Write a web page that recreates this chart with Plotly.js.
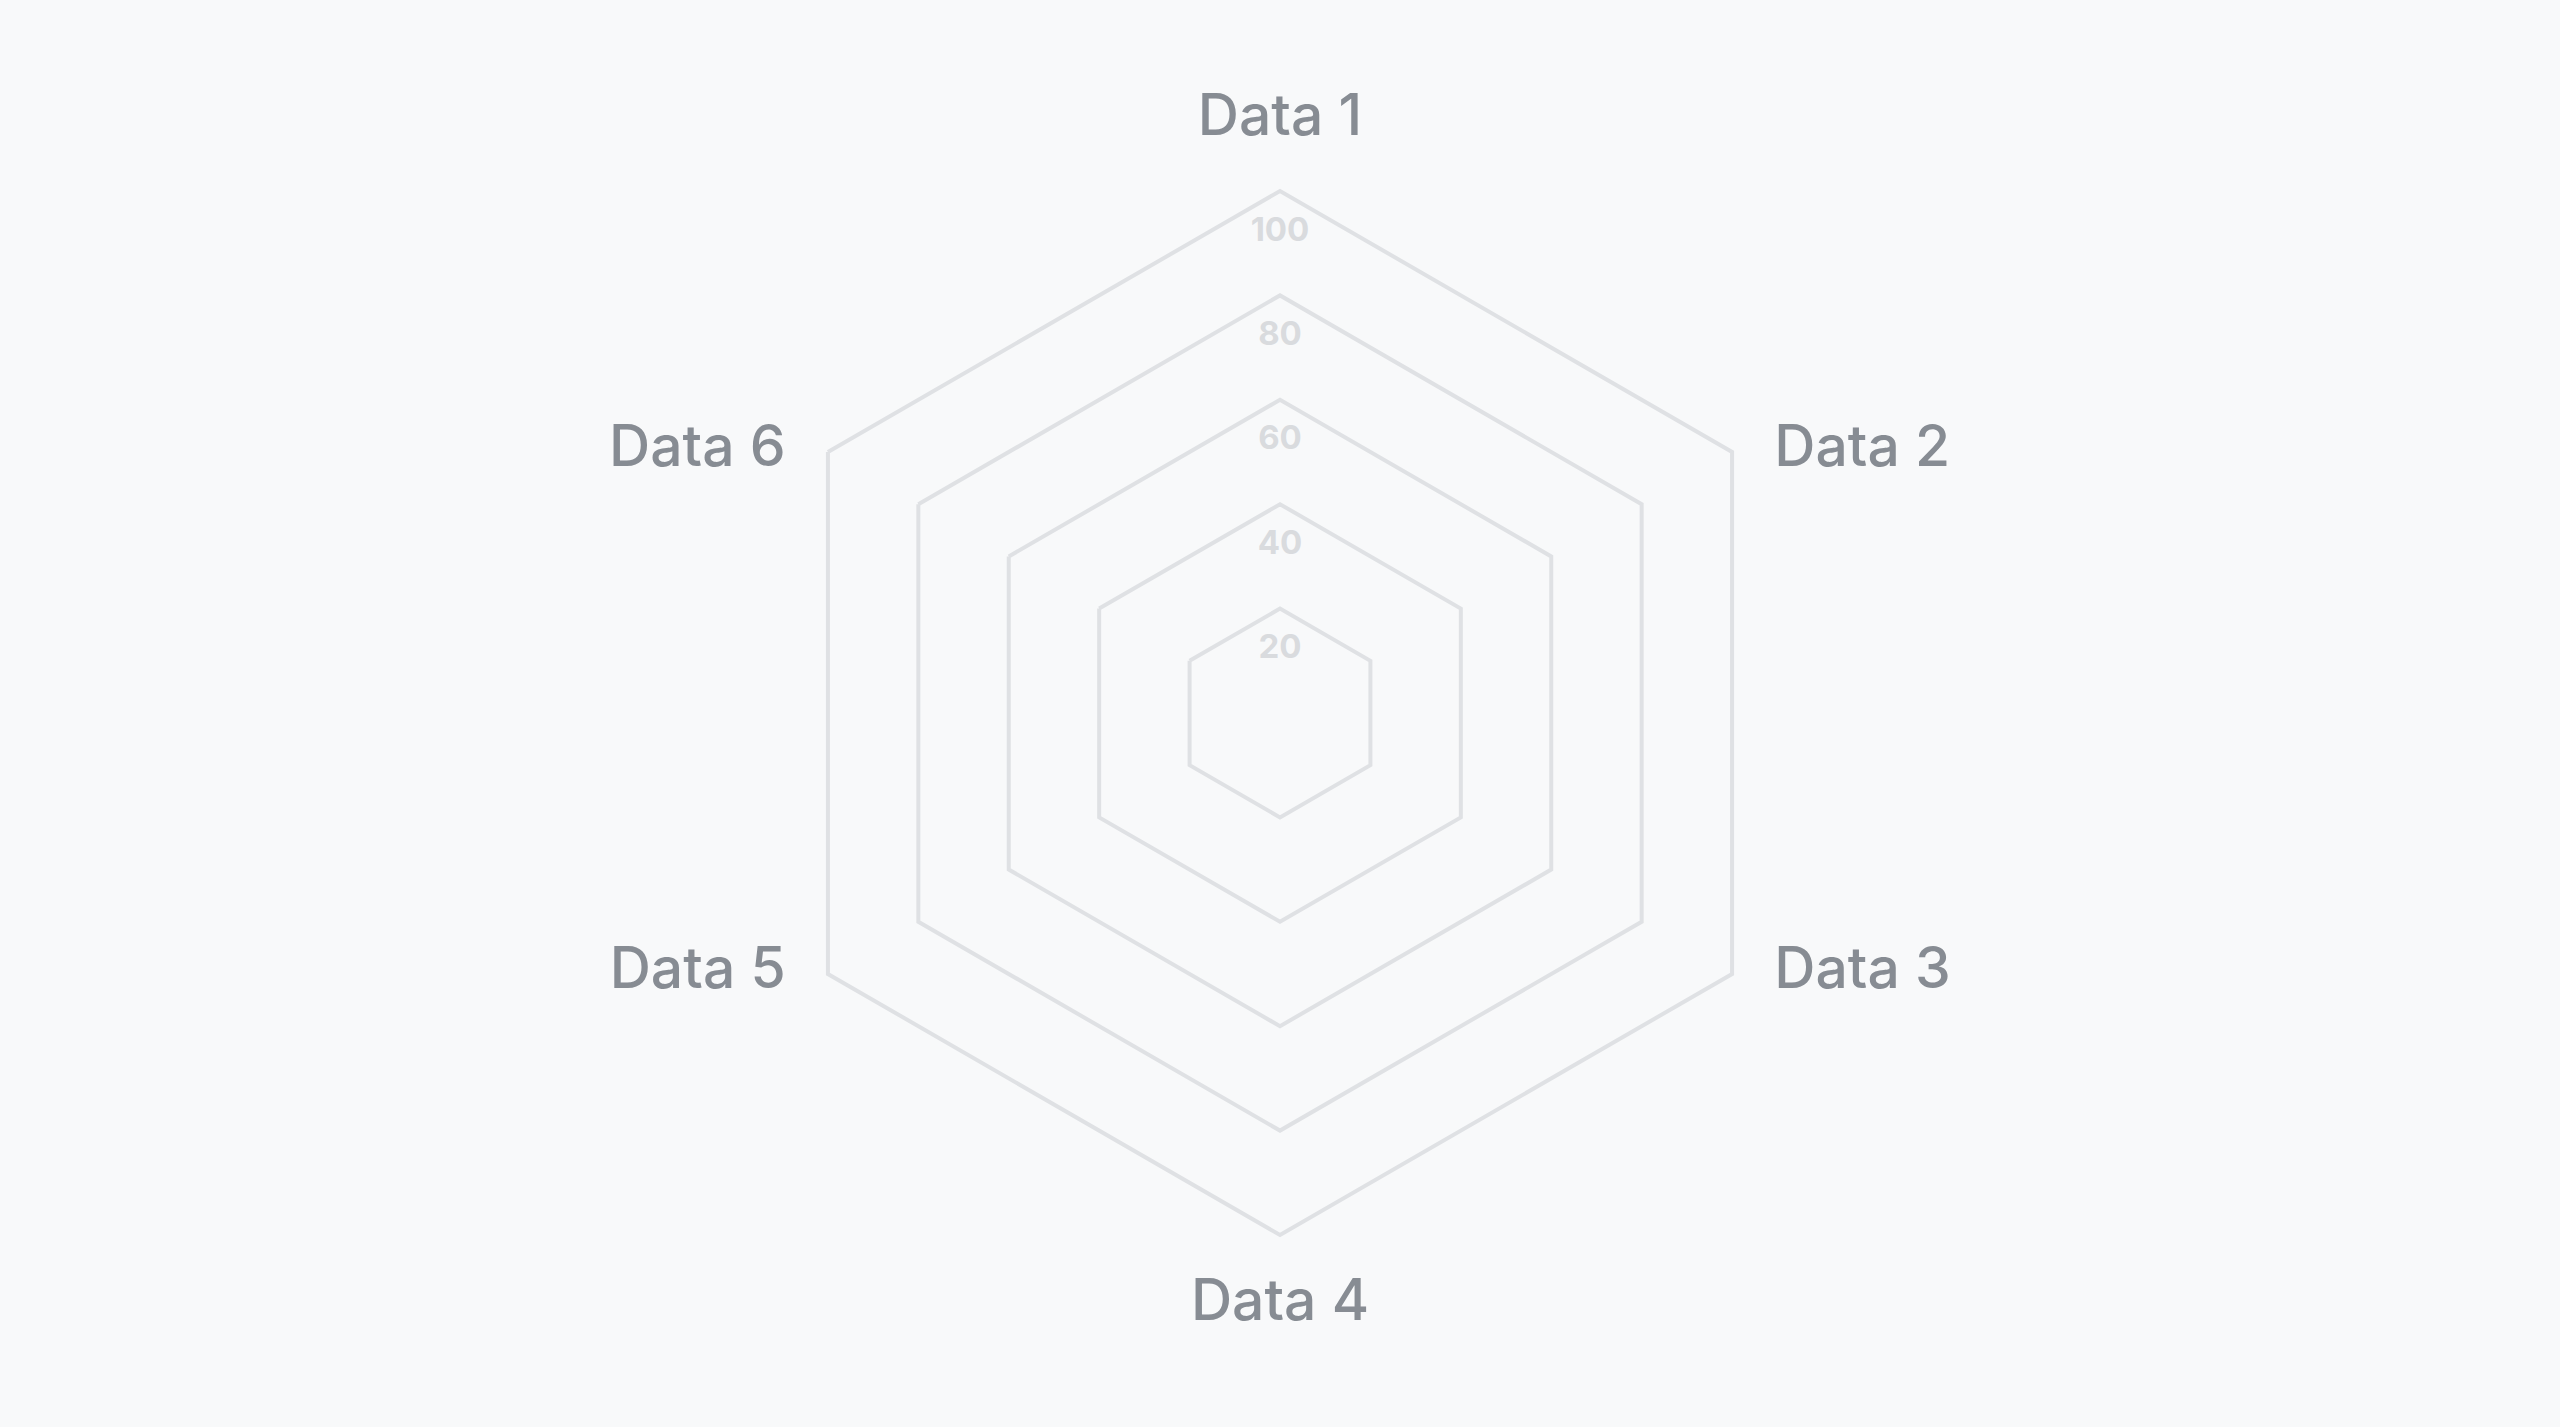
<!DOCTYPE html>
<html>
<head>
<meta charset="utf-8">
<script src="https://cdn.plot.ly/plotly-3.0.1.min.js"></script>
<style>
  html, body { margin: 0; padding: 0; background: #f8f9fa; }
  #chart { width: 2560px; height: 1427px; }
</style>
</head>
<body>
<div id="chart"></div>
<script>
// Categories (angular axis)
const categories = ['Data 1', 'Data 2', 'Data 3', 'Data 4', 'Data 5', 'Data 6'];
// Series values: no visible data polygon in the reference
const seriesValues = [null, null, null, null, null, null];
// Radial tick values and labels
const radialTickValues = [20, 40, 60, 80, 100];
const radialTickLabels = ['20', '40', '60', '80', '100'];
const radialRange = [0, 100];
// Placement of each category label around the outer ring
const categoryLabelPositions = ['top center', 'middle right', 'middle right', 'bottom center', 'middle left', 'middle left'];

const gridColor = '#dfe1e4';
const labelColor = '#878c93';
const tickColor = '#d9dbde';

const traces = [
  {
    type: 'scatterpolar',
    r: seriesValues,
    theta: categories,
    mode: 'lines',
    line: { width: 0 },
    hoverinfo: 'skip',
    showlegend: false
  },
  {
    // category labels just outside the outer ring
    type: 'scatterpolar',
    r: categories.map(() => radialRange[1]),
    theta: categories,
    text: categories,
    mode: 'markers+text',
    marker: { size: 66, color: 'rgba(0,0,0,0)' },
    textposition: categoryLabelPositions,
    textfont: { family: 'Inter', size: 57, color: labelColor, weight: 500 },
    hoverinfo: 'skip',
    showlegend: false,
    cliponaxis: false
  },
  {
    // radial tick labels, centered on the first spoke just inside each ring
    type: 'scatterpolar',
    r: radialTickValues,
    theta: radialTickValues.map(() => categories[0]),
    text: radialTickLabels,
    mode: 'markers+text',
    marker: { size: 38, color: 'rgba(0,0,0,0)' },
    textposition: 'bottom center',
    textfont: { family: 'Inter', size: 33, color: tickColor, weight: 700 },
    hoverinfo: 'skip',
    showlegend: false,
    cliponaxis: false
  }
];

const layout = {
  width: 2560,
  height: 1427,
  paper_bgcolor: '#f8f9fa',
  plot_bgcolor: '#f8f9fa',
  margin: { l: 0, r: 0, t: 191, b: 192 },
  showlegend: false,
  font: { family: 'Inter', color: labelColor },
  polar: {
    bgcolor: 'rgba(0,0,0,0)',
    gridshape: 'linear',
    radialaxis: {
      range: radialRange,
      tickvals: radialTickValues,
      showticklabels: false,
      ticks: '',
      showline: false,
      gridcolor: gridColor,
      gridwidth: 4,
      angle: 90
    },
    angularaxis: {
      type: 'category',
      categoryorder: 'array',
      categoryarray: categories,
      direction: 'clockwise',
      rotation: 90,
      showgrid: false,
      showline: true,
      linecolor: gridColor,
      linewidth: 4,
      ticks: '',
      showticklabels: false
    }
  }
};

Plotly.newPlot('chart', traces, layout, { displayModeBar: false, staticPlot: true });
</script>
</body>
</html>
